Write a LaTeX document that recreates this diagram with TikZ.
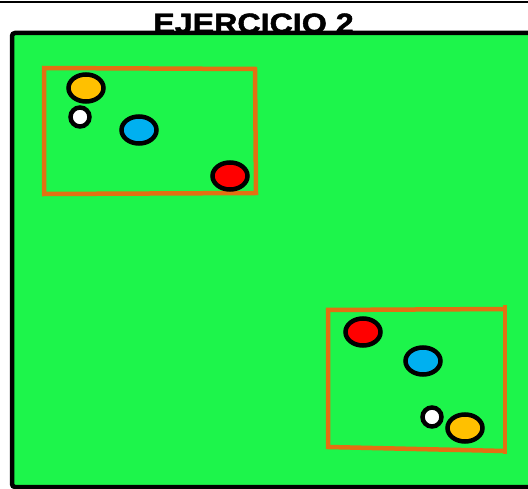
\documentclass[tikz,border=0pt]{standalone}
\usepackage{fontspec}
\setsansfont{Liberation Sans}
\newfontfamily\titlefont[BoldFeatures={FakeBold=1.6}]{Liberation Sans}
\usetikzlibrary{shapes.geometric}
\definecolor{verdecampo}{RGB}{29,245,75}
\definecolor{naranja}{RGB}{227,112,18}
\definecolor{amarillo}{RGB}{255,192,0}
\definecolor{azul}{RGB}{0,176,240}
\definecolor{rojo}{RGB}{255,0,0}

\begin{document}
\begin{tikzpicture}[
            x=1pt, y=-1pt,
            font=\sffamily\bfseries,
            field/.style={draw=black, line width=4.5pt, fill=verdecampo, rounded corners=3pt},
            zone/.style={draw=naranja, line width=4.5pt, line join=miter},
            ball/.style={ellipse, draw=black, line width=4.5pt, minimum width=35pt, minimum height=27pt, inner sep=0pt},
            cone/.style={circle, draw=black, line width=4.5pt, fill=white, minimum size=19pt, inner sep=0pt}
        ]
        \clip (0,0) rectangle (528,489);

        % Titolo
        \draw[line width=2pt] (0,2) -- (528,2);
        \node (title) [anchor=base, inner sep=0pt, font=\titlefont\bfseries\fontsize{28}{28}\selectfont] at (253.5,33) {\scalebox{1.15}[1]{EJERCICIO 2}};

        % Campo
        \draw[field] (12,33) rectangle (545,487);

        % Zona 1
        \draw[zone] (44,66) -- (44,194) -- (256,193) -- (255,69) -- (42,68);
        \node (yellow1) [ball, fill=amarillo] at (86,88) {};
        \node (white1) [cone] at (80,117) {};
        \node (blue1) [ball, fill=azul] at (139,130) {};
        \node (red1) [ball, fill=rojo] at (230,176) {};

        % Zona 2
        \draw[zone] (328,309) -- (328,447) -- (505,451);
        \draw[zone] (326,310) -- (505,309);
        \draw[zone] (505,305) -- (505,454);
        \node (red2) [ball, fill=rojo] at (363,332) {};
        \node (blue2) [ball, fill=azul] at (423,361) {};
        \node (white2) [cone] at (432,417) {};
        \node (yellow2) [ball, fill=amarillo] at (465,428) {};

    \end{tikzpicture}
\end{document}
